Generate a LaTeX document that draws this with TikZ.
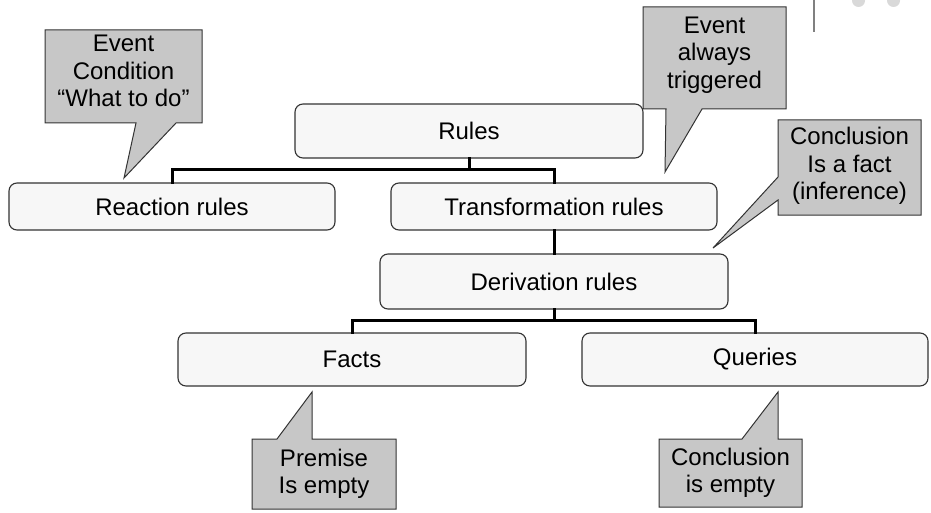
\documentclass[tikz,border=0pt]{standalone}
\usepackage{fontspec}
\setmainfont{Liberation Sans}
\begin{document}
\begin{tikzpicture}[x=1pt,y=-1pt,
  every node/.style={font=\fontsize{24}{27.5}\selectfont, inner sep=0pt},
  rulebox/.style={draw=black!80, line width=1.1pt, fill=black!3, rounded corners=8pt, align=center},
  conn/.style={line width=3pt, black, line cap=rect},
  callout/.style={draw=black!80, line width=1pt, fill=black!22, line join=miter},
  calltext/.style={align=center, text=black}]
\useasboundingbox (0,0) rectangle (931,513);
\clip (0,0) rectangle (931,513);

% corner ornament
\draw[black!50, line width=1.6pt] (814,0) -- (814,32);
\fill[black!15] (858.5,0.5) circle (6.5) (893.5,0.5) circle (6.5);

% rule hierarchy
\node[rulebox, minimum width=348pt, minimum height=54pt] (rules) at (469,131) {Rules};
\node[rulebox, minimum width=326pt, minimum height=47pt] (reaction) at (172,206.5) {Reaction rules};
\node[rulebox, minimum width=326pt, minimum height=47pt] (transf) at (554,206.5) {Transformation rules};
\node[rulebox, minimum width=348pt, minimum height=55pt] (deriv) at (554,281.5) {Derivation rules};
\node[rulebox, minimum width=348pt, minimum height=53pt] (facts) at (352,359.5) {Facts};
\node[rulebox, minimum width=346pt, minimum height=53pt] (queries) at (755,359.5) {Queries};

\coordinate (bar1) at (0,170);
\coordinate (bar2) at (0,320);
\draw[conn] (rules.south) -- (rules.south |- bar1);
\draw[conn] (reaction.north) -- (reaction.north |- bar1) -- (transf.north |- bar1) -- (transf.north);
\draw[conn] (transf.south) -- (deriv.north);
\draw[conn] (deriv.south) -- (deriv.south |- bar2);
\draw[conn] (facts.north) -- (facts.north |- bar2) -- (queries.north |- bar2) -- (queries.north);

% callouts
\coordinate (t1) at (124,178);
\draw[callout] (45,30) -- (202,30) -- (202,123) -- (176,123) -- (t1) -- (136,123) -- (45,123) -- cycle;
\node[calltext] (c1) at (123.5,71) {Event\\Condition\\“What to do”};

\coordinate (t2) at (665,172);
\draw[callout] (643,7) -- (786,7) -- (786,109) -- (702,109) -- (t2) -- (666,109) -- (643,109) -- cycle;
\node[calltext] (c2) at (714.5,55) {Event\\always\\triggered};

\coordinate (t3) at (713,248);
\draw[callout] (778,120) -- (921,120) -- (921,215) -- (778,215) -- (778,200) -- (t3) -- (778,177) -- cycle;
\node[calltext] (c3) at (849.5,166) {Conclusion\\Is a fact\\(inference)};

\coordinate (t4) at (312,392);
\draw[callout] (252,439) -- (277,439) -- (t4) -- (312,439) -- (396,439) -- (396,509) -- (252,509) -- cycle;
\node[calltext] (c4) at (324,474) {Premise\\Is empty};

\coordinate (t5) at (778,392);
\draw[callout] (659,439) -- (742,439) -- (t5) -- (778,439) -- (802,439) -- (802,507) -- (659,507) -- cycle;
\node[calltext] (c5) at (730.5,473) {Conclusion\\is empty};
\end{tikzpicture}
\end{document}
